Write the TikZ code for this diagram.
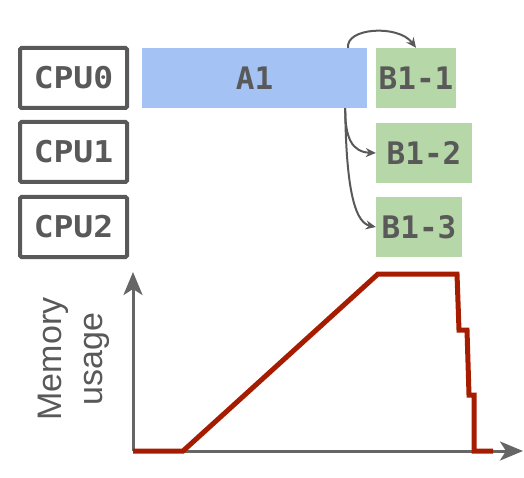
\documentclass[tikz,border=0pt]{standalone}
\usepackage{fontspec}
\setmainfont{Liberation Sans}
\newfontfamily\cpufont[FakeStretch=1.1]{DejaVu Sans Mono Bold}
\newfontfamily\blkfont{DejaVu Sans Mono Bold}
\usetikzlibrary{arrows.meta}
\definecolor{boxgray}{HTML}{595959}
\definecolor{axgray}{HTML}{666666}
\definecolor{ablue}{HTML}{A4C2F4}
\definecolor{bgreen}{HTML}{B6D7A8}
\definecolor{memred}{HTML}{A61C00}
\tikzset{
  cpubox/.style={draw=boxgray, line width=4pt, rounded corners=1.5pt, minimum width=107pt, minimum height=60pt, inner sep=0pt, text=boxgray, font=\cpufont\fontsize{30}{30}\selectfont},
  ablock/.style={fill=ablue, draw=none, minimum width=225pt, minimum height=60pt, inner sep=0pt, text=boxgray, font=\blkfont\fontsize{31}{31}\selectfont},
  bblock/.style={fill=bgreen, draw=none, minimum height=60pt, inner sep=0pt, text=boxgray, font=\blkfont\fontsize{31}{31}\selectfont},
  conn/.style={draw=boxgray, line width=2pt, -{Stealth[length=10pt, width=9pt]}},
  axis/.style={draw=axgray, line width=3pt, -{Stealth[length=23pt, width=19pt, inset=6pt]}},
  memline/.style={draw=memred, line width=5pt, line join=miter},
}
\begin{document}
\begin{tikzpicture}[x=1pt, y=-1pt]
\useasboundingbox (0,0) rectangle (524,478);
\node[cpubox] (cpu0) at (73.5,78) {CPU0};
\node[cpubox] (cpu1) at (73.5,152) {CPU1};
\node[cpubox] (cpu2) at (73.5,227) {CPU2};
\node[ablock] (a1) at (254.5,78) {A1};
\node[bblock, minimum width=80pt] (b11) at (416,78) {B1-1};
\node[bblock, minimum width=96pt] (b12) at (424,153) {B1-2};
\node[bblock, minimum width=86pt] (b13) at (419,227) {B1-3};
\draw[conn] ([xshift=-19pt]a1.north east) .. controls (345,28) and (398,24) .. (b11.north);
\draw[conn] ([xshift=-22pt]a1.south east) .. controls (345,138) and (352,152) .. (b12.west);
\draw[conn] ([xshift=-22pt]a1.south east) .. controls (346,175) and (352,222) .. (b13.west);
% chart
\coordinate (O) at (133,451);
\coordinate (ytip) at (133,272);
\coordinate (xtip) at (523,451);
\draw[axis] (O) -- (ytip);
\draw[axis] (O) -- (xtip);
\draw[memline] (O) -- (183,451) -- (378,274) -- (457,274) -- (459,330) -- (467,330) -- (469,395) -- (474,395) -- (474,451) -- (493,451);
\node[rotate=90, align=center, text=boxgray, font=\fontsize{34}{41}\selectfont] (lbl) at (74,359) {Memory\\usage};
\end{tikzpicture}
\end{document}
